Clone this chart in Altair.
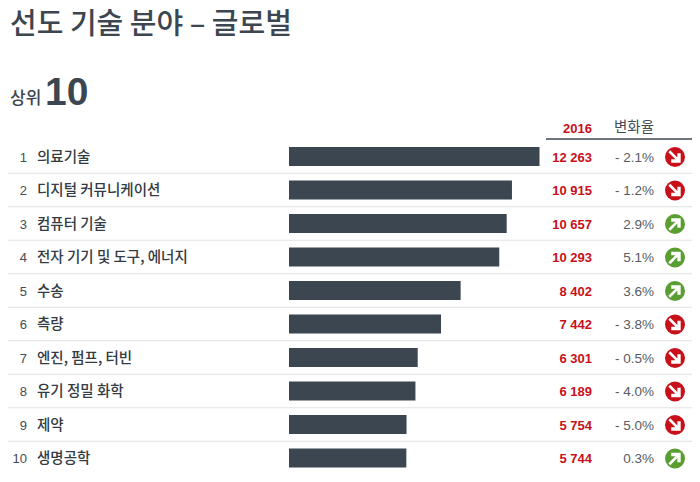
import altair as alt
import pandas as pd

ranks = list(range(1, 11))
fields = ["의료기술", "디지털 커뮤니케이션", "컴퓨터 기술", "전자 기기 및 도구, 에너지", "수송", "측량",
          "엔진, 펌프, 터빈", "유기 정밀 화학", "제약", "생명공학"]
values = [12263, 10915, 10657, 10293, 8402, 7442, 6301, 6189, 5754, 5744]
value_labels = ["12 263", "10 915", "10 657", "10 293", "8 402", "7 442", "6 301", "6 189", "5 754", "5 744"]
change_labels = ["- 2.1%", "- 1.2%", "2.9%", "5.1%", "3.6%", "- 3.8%", "- 0.5%", "- 4.0%", "- 5.0%", "0.3%"]
directions = ["down", "down", "up", "up", "up", "down", "down", "down", "down", "up"]

DARK = "#3c4650"
RED = "#c8101a"
GREEN = "#5a9e32"
KR = "Noto Sans CJK KR"
LAT = "Liberation Sans"

df = pd.DataFrame(dict(rank=ranks, field=fields, value=values, vlabel=value_labels,
                       change=change_labels, direction=directions))
df["sep"] = df["rank"] + 0.5

W, H = 684, 466
yscale = alt.Scale(domain=[1, 10], range=[148.5, 450], padding=0, nice=False, zero=False)
y = alt.Y("rank:Q", scale=yscale, axis=None)
base = alt.Chart(df)

seps = alt.Chart(df[df["rank"] < 10]).mark_rule(color="#e2e2e2", strokeWidth=1).encode(
    y=alt.Y("sep:Q", scale=yscale, axis=None), x=alt.value(0), x2=alt.value(684))
bars = base.mark_bar(color=DARK, size=19, orient="horizontal").encode(
    y=y,
    x=alt.X("value:Q", stack=None, scale=alt.Scale(domain=[0, 12263], range=[281, 531.5]), axis=None),
)
rank_t = base.mark_text(align="right", baseline="middle", dy=1, font=LAT, fontSize=13, color="#444c54").encode(
    y=y, x=alt.value(19), text="rank:N")
field_t = base.mark_text(align="left", baseline="middle", dy=1, font=KR, fontSize=14.5, fontWeight=500, color="#333b43").encode(
    y=y, x=alt.value(29), text="field:N")
val_t = base.mark_text(align="right", baseline="middle", dy=1, font=LAT, fontSize=13, fontWeight="bold", color=RED).encode(
    y=y, x=alt.value(584), text="vlabel:N")
chg_t = base.mark_text(align="right", baseline="middle", dy=1, font=LAT, fontSize=13.5, color="#555c63").encode(
    y=y, x=alt.value(646), text="change:N")
icons = base.mark_point(filled=True, size=400, opacity=1, strokeWidth=0, yOffset=0.5).encode(
    y=y, x=alt.value(667),
    color=alt.Color("direction:N", scale=alt.Scale(domain=["down", "up"], range=[RED, GREEN]), legend=None),
)
ARROW_DOWN = "M-0.5 -0.7 L0.25 0.05 L0.25 -0.4 L0.6 -0.4 L0.6 0.6 L-0.4 0.6 L-0.4 0.25 L0.05 0.25 L-0.7 -0.5 Z"
ARROW_UP = "M-0.5 0.7 L0.25 -0.05 L0.25 0.4 L0.6 0.4 L0.6 -0.6 L-0.4 -0.6 L-0.4 -0.25 L0.05 -0.25 L-0.7 0.5 Z"
arr_d = alt.Chart(df[df.direction == "down"]).mark_point(shape=ARROW_DOWN, filled=True, size=360, color="white", opacity=1, strokeWidth=0, yOffset=0.5).encode(y=y, x=alt.value(667))
arr_u = alt.Chart(df[df.direction == "up"]).mark_point(shape=ARROW_UP, filled=True, size=360, color="white", opacity=1, strokeWidth=0, yOffset=0.5).encode(y=y, x=alt.value(667))

def label(text, x, ypos, **kw):
    return alt.Chart(pd.DataFrame({"t": [text]})).mark_text(**kw).encode(
        x=alt.value(x), y=alt.value(ypos), text="t:N")

title = label("선도 기술 분야 – 글로벌", 2, 17, align="left", baseline="middle", font=KR, fontSize=29, fontWeight=500, color=DARK)
top_a = label("상위", 2, 91, align="left", baseline="middle", font=KR, fontSize=17, fontWeight=500, color=DARK)
top_b = label("10", 37, 85, align="left", baseline="middle", font=LAT, fontSize=39, fontWeight="bold", color=DARK)
h_2016 = label("2016", 584, 121, align="right", baseline="middle", font=LAT, fontSize=13, fontWeight="bold", color=RED)
h_chg = label("변화율", 646, 120, align="right", baseline="middle", font=KR, fontSize=14.5, color="#444c54")
h_rule = alt.Chart(pd.DataFrame({"a": [0]})).mark_rule(color=DARK, strokeWidth=1.5).encode(
    x=alt.value(538), x2=alt.value(684), y=alt.value(131))

chart = alt.layer(seps, bars, rank_t, field_t, val_t, chg_t, icons, arr_d, arr_u,
                  title, top_a, top_b, h_2016, h_chg, h_rule).resolve_scale(
    x="shared", y="shared"
).properties(width=W, height=H, padding=0, autosize=alt.AutoSizeParams(type="none")).configure_view(stroke=None)

chart.save("out.html", embed_options={"renderer": "svg", "actions": False})
